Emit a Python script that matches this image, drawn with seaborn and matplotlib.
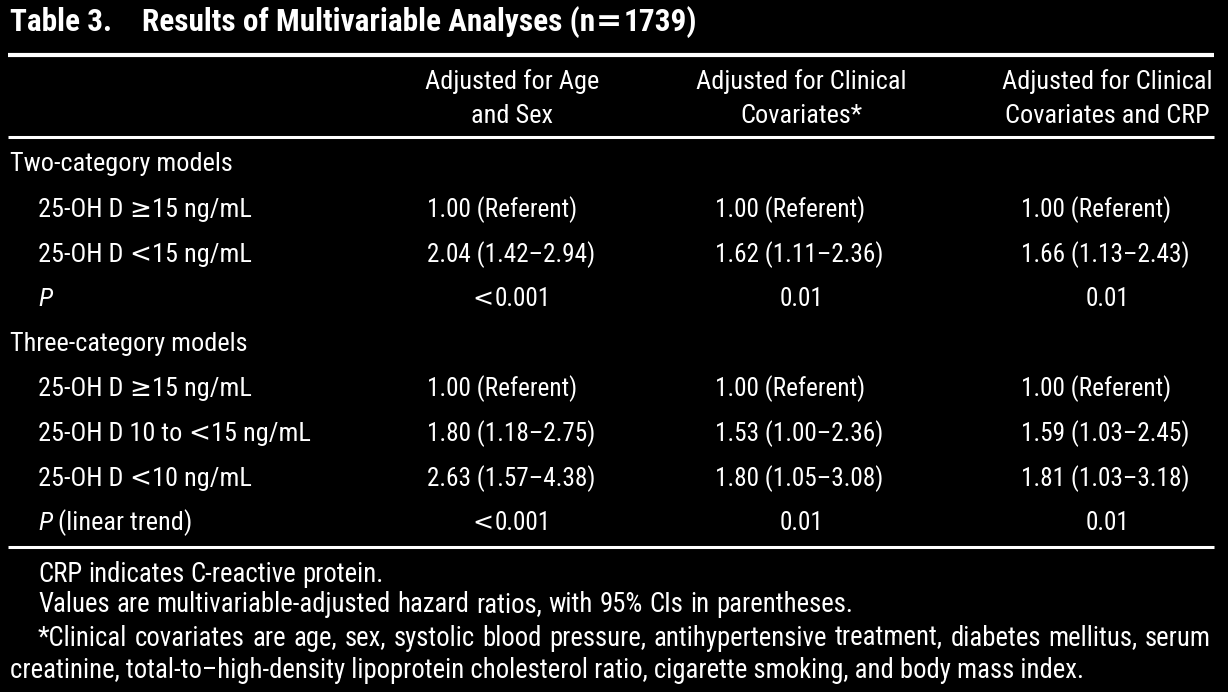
import matplotlib
matplotlib.use("Agg")
import matplotlib.pyplot as plt
import seaborn as sns

# table content
title_label = "Table 3."
title_text = ["Results of Multivariable Analyses (n", "=", "1739)"]
col_headers = [["Adjusted for Age", "and Sex"],
               ["Adjusted for Clinical", "Covariates*"],
               ["Adjusted for Clinical", "Covariates and CRP"]]

# row labels: (prefix, relation sign, suffix)
two_cat_rows = [("25-OH D", "≥", "15 ng/mL"), ("25-OH D", "<", "15 ng/mL")]
two_cat_age_sex = ["1.00 (Referent)", "2.04 (1.42–2.94)"]
two_cat_clinical = ["1.00 (Referent)", "1.62 (1.11–2.36)"]
two_cat_crp = ["1.00 (Referent)", "1.66 (1.13–2.43)"]
two_cat_p = [("<", "0.001"), ("", "0.01"), ("", "0.01")]

three_cat_rows = [("25-OH D", "≥", "15 ng/mL"), ("25-OH D 10 to", "<", "15 ng/mL"),
                  ("25-OH D", "<", "10 ng/mL")]
three_cat_age_sex = ["1.00 (Referent)", "1.80 (1.18–2.75)", "2.63 (1.57–4.38)"]
three_cat_clinical = ["1.00 (Referent)", "1.53 (1.00–2.36)", "1.80 (1.05–3.08)"]
three_cat_crp = ["1.00 (Referent)", "1.59 (1.03–2.45)", "1.81 (1.03–3.18)"]
three_cat_p = [("<", "0.001"), ("", "0.01"), ("", "0.01")]

footnotes = ["CRP indicates C-reactive protein.",
             "Values are multivariable-adjusted hazard ratios, with 95% CIs in parentheses.",
             "*Clinical covariates are age, sex, systolic blood pressure, antihypertensive treatment, diabetes mellitus, serum",
             "creatinine, total-to–high-density lipoprotein cholesterol ratio, cigarette smoking, and body mass index."]

sns.set_theme(style="dark")
plt.rcParams["font.family"] = ["Roboto Condensed", "DejaVu Sans"]

W, H = 1228, 692
fig = plt.figure(figsize=(W / 100, H / 100), dpi=100)
fig.patch.set_facecolor("black")
ax = fig.add_axes([0, 0, 1, 1])
ax.set_facecolor("black")
ax.set_xlim(0, W)
ax.set_ylim(H, 0)
ax.axis("off")

NFS = 18.2   # numbers
LFS = 18.9   # labels / headers
FFS = 19.3   # footnotes
TFS = 22.5   # title
white = "white"
DV = {"family": ["DejaVu Sans"]}

fig.canvas.draw()
rend = fig.canvas.get_renderer()


def txt(x, y, s, ha="left", **kw):
    return ax.text(x, y, s, ha=ha, va="center", color=white,
                   fontsize=kw.pop("fontsize", LFS), **kw)


def width(t):
    return t.get_window_extent(rend).width


def run(x, y, segs, ha="left", **common):
    # segs: list of strings / (string, props) / numbers (pixel gaps)
    items = []
    for s in segs:
        if isinstance(s, (int, float)):
            items.append((None, s))
            continue
        if isinstance(s, str):
            s = (s, {})
        if not s[0]:
            continue
        t = txt(0, y, s[0], **{**common, **s[1]})
        items.append((t, width(t)))
    total = sum(w for _, w in items)
    x0 = x - total / 2 if ha == "center" else x
    for t, w in items:
        if t is not None:
            t.set_x(x0)
        x0 += w


def justify(x0, x1, y, line, fs):
    words = line.split(" ")
    parts = [txt(0, y, w, fontsize=fs) for w in words]
    ws = [width(p) for p in parts]
    gap = (x1 - x0 - sum(ws)) / (len(words) - 1)
    x = x0
    for p, w in zip(parts, ws):
        p.set_x(x)
        x += w + gap


# title
txt(10, 22, title_label, fontsize=TFS, fontweight="bold")
run(142, 22, [title_text[0], 1, (title_text[1], DV), 1, title_text[2]],
    fontsize=TFS, fontweight="bold")

# rules
ax.hlines(55, 8, 1214, color=white, lw=3)
ax.hlines(137, 8, 1214, color=white, lw=2.2)
ax.hlines(547, 8, 1214, color=white, lw=2.2)

# column headers
col_center = [512, 801, 1107]
col_left = [427, 715, 1021]
for cx, (l1, l2) in zip(col_center, col_headers):
    txt(cx, 82, l1, ha="center")
    txt(cx, 116, l2, ha="center")


def row_label(y, lab):
    pre, sign, post = lab
    run(38, y, [pre, 6, (sign, DV), 1, post])


def row_values(y, cols, i):
    for x, col in zip(col_left, cols):
        txt(x, y, col[i], fontsize=NFS)


def p_values(y, pvals):
    for cx, (sign, val) in zip(col_center, pvals):
        run(cx, y, [(sign, DV), 1, val], ha="center", fontsize=NFS)


# two-category block
txt(10, 164, "Two-category models")
y = 210
for i, lab in enumerate(two_cat_rows):
    row_label(y, lab)
    row_values(y, [two_cat_age_sex, two_cat_clinical, two_cat_crp], i)
    y += 45
txt(38, 299, "P", style="italic")
p_values(299, two_cat_p)

# three-category block
txt(10, 344, "Three-category models")
y = 389
for i, lab in enumerate(three_cat_rows):
    row_label(y, lab)
    row_values(y, [three_cat_age_sex, three_cat_clinical, three_cat_crp], i)
    y += 45
run(38, 523, [("P", {"style": "italic"}), 6, "(linear trend)"])
p_values(523, three_cat_p)

# footnotes
justify(38, 384, 574, footnotes[0], FFS)
justify(38, 853, 605, footnotes[1], FFS)
justify(38, 1211, 638, footnotes[2], FFS)
txt(10, 670, footnotes[3], fontsize=FFS)

fig.savefig("out.png", dpi=100, facecolor="black")
